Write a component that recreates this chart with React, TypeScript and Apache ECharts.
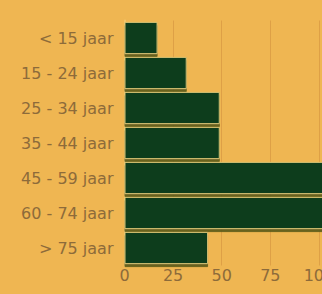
import React, { useEffect, useRef } from "react";
import * as echarts from "echarts";

const categories = ["< 15 jaar", "15 - 24 jaar", "25 - 34 jaar", "35 - 44 jaar", "45 - 59 jaar", "60 - 74 jaar", "> 75 jaar"];
const values = [17, 32, 49, 49, 112, 110, 43];
const xTicks = [0, 25, 50, 75, 100, 125];

export default function App() {
  const ref = useRef<HTMLDivElement>(null);
  useEffect(() => {
    const chart = echarts.init(ref.current!, null, { renderer: "svg" });
    chart.setOption({
      animation: false,
      backgroundColor: "#efb652",
      grid: { left: 124.5, top: 20.5, right: -45.5, bottom: 28.5, outerBoundsMode: "none", containLabel: false },
      xAxis: {
        type: "value",
        min: xTicks[0],
        max: xTicks[xTicks.length - 1],
        interval: 25,
        axisLine: { show: false },
        axisTick: { show: false },
        axisLabel: { color: "#8d6b3a", fontSize: 16, fontFamily: "DejaVu Sans", margin: 2, hideOverlap: false },
        splitLine: { show: true, lineStyle: { color: "#dea046", width: 1 } },
      },
      yAxis: {
        type: "category",
        inverse: true,
        data: categories,
        axisLine: { show: true, lineStyle: { color: "#f4c56a", width: 2 } },
        axisTick: { show: false },
        axisLabel: { color: "#8d6b3a", fontSize: 16, fontFamily: "DejaVu Sans", margin: 11 },
      },
      series: [
        {
          type: "bar",
          data: values,
          clip: false,
          barCategoryGap: "8%",
          itemStyle: {
            color: "#0d3e1c",
            borderColor: "#d7c273",
            borderWidth: 1,
            shadowColor: "rgba(90,90,20,0.9)",
            shadowOffsetY: 3,
            shadowBlur: 0,
          },
        },
      ],
    });
    return () => chart.dispose();
  }, []);
  return <div ref={ref} style={{ width: 322, height: 294, position: "absolute", left: 0, top: 0 }} />;
}
